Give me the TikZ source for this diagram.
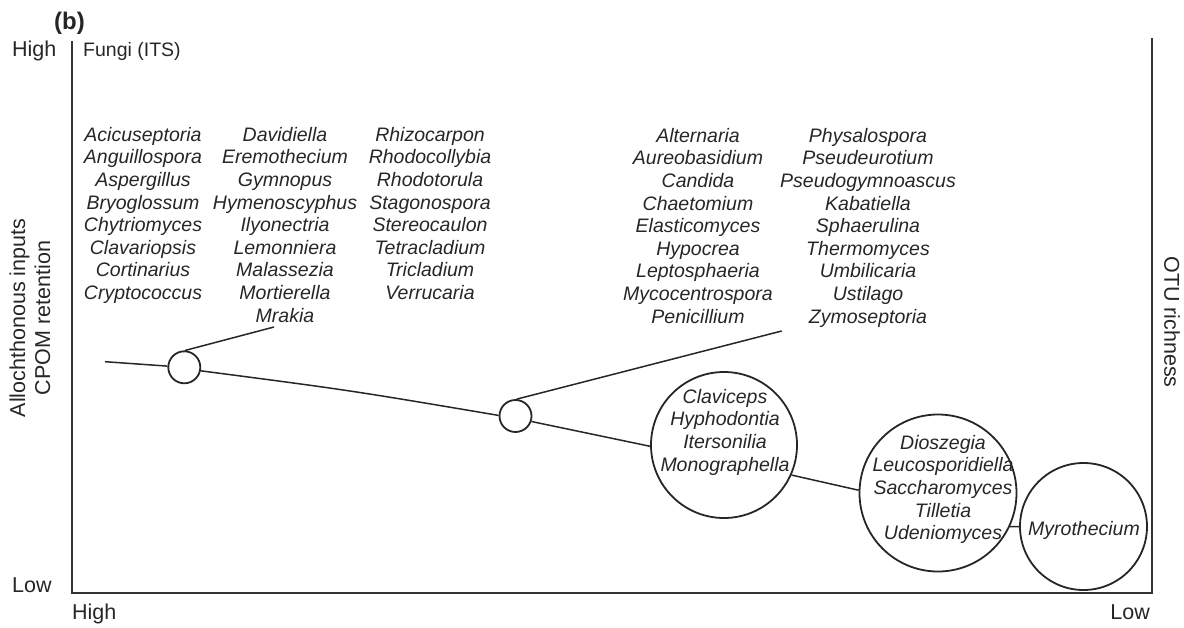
\documentclass[tikz,border=0pt]{standalone}
\usepackage{fontspec}
\setmainfont{Liberation Sans}
\begin{document}
\begin{tikzpicture}[x=1pt,y=-1pt,
  taxa/.style={font=\fontsize{19.5}{22.6}\selectfont\itshape, align=center, anchor=north, inner sep=0pt, text=black!85},
  axislbl/.style={font=\fontsize{21.5}{25}\selectfont, inner sep=0pt, text=black!85},
  bubble/.style={draw=black!85, circle, line width=1.8pt, inner sep=0pt},
  link/.style={draw=black!85, line width=1.5pt},
  axisline/.style={draw=black!80, line width=2pt}]
\useasboundingbox (0,0) rectangle (1184,627);

% frame: left, bottom and right axes
\coordinate (ytop) at (72,41);
\coordinate (origin) at (72,593);
\coordinate (xend) at (1152,593);
\coordinate (rtop) at (1152,38);
\draw[axisline] (ytop) -- (origin) -- (xend) -- (rtop);

% axis labels
\node[font=\fontsize{24}{24}\selectfont\bfseries, anchor=base west, inner sep=0pt, text=black!85] (panel) at (54,29) {(b)};
\node[font=\fontsize{19.5}{20}\selectfont, anchor=base west, inner sep=0pt, text=black!85] (group) at (83,56) {Fungi (ITS)};
\node[axislbl, anchor=base west] (yhigh) at (12,56) {High};
\node[axislbl, anchor=base west] (ylow) at (12,592) {Low};
\node[axislbl, anchor=base west] (xhigh) at (72,619) {High};
\node[axislbl, anchor=base east] (xlow) at (1150,619) {Low};
\node[axislbl, rotate=90, align=center] (ylabel) at (30,318) {Allochthonous inputs\\CPOM retention};
\node[axislbl, rotate=-90] (rlabel) at (1172,322) {OTU richness};

% nodes along the gradient
\coordinate (t0) at (105,361.7);
\node[bubble, minimum size=32pt] (c1) at (184.3,367.3) {};
\node[bubble, minimum size=32pt] (c2) at (515.5,416) {};
\node[bubble, minimum size=146pt] (c3) at (724,445) {};
\node[bubble, minimum size=157pt] (c4) at (938,493) {};
\node[bubble, minimum size=127pt] (c5) at (1083.5,526.5) {};
\coordinate (b1) at (274,327);
\coordinate (b2) at (781.7,331);

% connectors
\draw[link] (t0) -- (c1);
\draw[link] (c1.-12.5) .. controls (350,390.3) .. (c2.178);
\draw[link] (c2.-19) -- (c3.181);
\draw[link] (c3.-24.5) -- (c4.178.5);
\draw[link] (c4.-25.7) -- (c5.180);
\draw[link] (c1.87) -- (b1);
\draw[link] (c2.86) -- (b2);

% genus lists
\node[taxa] (col1) at (143,127) {Acicuseptoria\\Anguillospora\\Aspergillus\\Bryoglossum\\Chytriomyces\\Clavariopsis\\Cortinarius\\Cryptococcus};
\node[taxa] (col2) at (285,127) {Davidiella\\Eremothecium\\Gymnopus\\Hymenoscyphus\\Ilyonectria\\Lemonniera\\Malassezia\\Mortierella\\Mrakia};
\node[taxa] (col3) at (430,127) {Rhizocarpon\\Rhodocollybia\\Rhodotorula\\Stagonospora\\Stereocaulon\\Tetracladium\\Tricladium\\Verrucaria};
\node[taxa] (col4) at (698,128) {Alternaria\\Aureobasidium\\Candida\\Chaetomium\\Elasticomyces\\Hypocrea\\Leptosphaeria\\Mycocentrospora\\Penicillium};
\node[taxa] (col5) at (868,128) {Physalospora\\Pseudeurotium\\Pseudogymnoascus\\Kabatiella\\Sphaerulina\\Thermomyces\\Umbilicaria\\Ustilago\\Zymoseptoria};

% genera inside the bubbles
\node[taxa] (t3) at (725,389) {Claviceps\\Hyphodontia\\Itersonilia\\Monographella};
\node[taxa] (t4) at (943,435) {Dioszegia\\Leucosporidiella\\Saccharomyces\\Tilletia\\Udeniomyces};
\node[taxa] (t5) at (1084,521) {Myrothecium};
\end{tikzpicture}
\end{document}
